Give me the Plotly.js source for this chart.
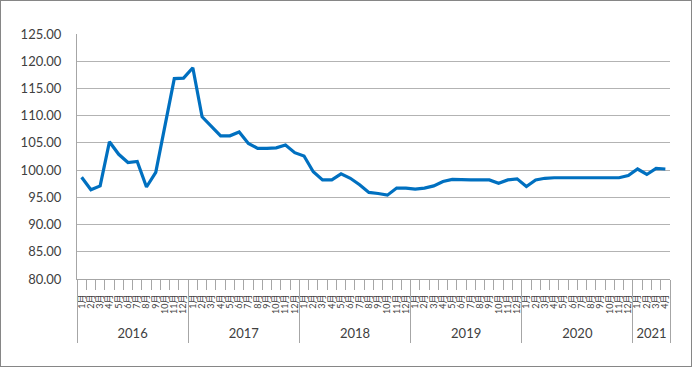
<!DOCTYPE html>
<html>
<head>
<meta charset="utf-8">
<script src="https://cdn.plot.ly/plotly-3.0.1.min.js"></script>
<style>
html,body{margin:0;padding:0;background:#fff;}
#wrap{position:relative;width:692px;height:367px;}
#chart{width:692px;height:367px;}
#frame{position:absolute;left:0;top:0;width:690px;height:365px;border:1px solid #868686;pointer-events:none;}
</style>
</head>
<body>
<div id="wrap"><div id="chart"></div><div id="frame"></div></div>
<script>
var years = [
 "2016","2016","2016","2016","2016","2016","2016","2016","2016","2016","2016","2016",
 "2017","2017","2017","2017","2017","2017","2017","2017","2017","2017","2017","2017",
 "2018","2018","2018","2018","2018","2018","2018","2018","2018","2018","2018","2018",
 "2019","2019","2019","2019","2019","2019","2019","2019","2019","2019","2019","2019",
 "2020","2020","2020","2020","2020","2020","2020","2020","2020","2020","2020","2020",
 "2021","2021","2021","2021"];
var months = [
 "1月","2月","3月","4月","5月","6月","7月","8月","9月","10月","11月","12月",
 "1月","2月","3月","4月","5月","6月","7月","8月","9月","10月","11月","12月",
 "1月","2月","3月","4月","5月","6月","7月","8月","9月","10月","11月","12月",
 "1月","2月","3月","4月","5月","6月","7月","8月","9月","10月","11月","12月",
 "1月","2月","3月","4月","5月","6月","7月","8月","9月","10月","11月","12月",
 "1月","2月","3月","4月"];
var values = [
 98.7, 96.4, 97.1, 105.2, 102.9, 101.4, 101.6, 96.9, 99.6, 108.3, 116.8, 116.9,
 118.8, 109.8, 108.0, 106.3, 106.3, 107.0, 104.9, 104.0, 104.0, 104.1, 104.6, 103.2,
 102.6, 99.7, 98.2, 98.2, 99.3, 98.5, 97.3, 95.9, 95.7, 95.4, 96.7, 96.7,
 96.5, 96.7, 97.1, 97.9, 98.3, 98.2, 98.2, 98.2, 98.2, 97.6, 98.2, 98.4,
 97.0, 98.2, 98.5, 98.6, 98.6, 98.6, 98.6, 98.6, 98.6, 98.6, 98.6, 99.0,
 100.2, 99.2, 100.3, 100.2];

// category positions derived from the arrays
var idx = months.map(function(_, i){ return i; });
var monthBounds = idx.map(function(i){ return i - 0.5; }).concat([months.length - 0.5]);
var yearNames = years.filter(function(y, i){ return i === 0 || years[i-1] !== y; });
var yearCenters = yearNames.map(function(y){
  return (years.indexOf(y) + years.lastIndexOf(y)) / 2;
});
var yearBounds = yearNames.map(function(y){ return years.indexOf(y) - 0.5; })
  .concat([years.length - 0.5]);
var xRange = [-0.5, years.length - 0.5];

var trace = {
  type: 'scatter', mode: 'lines',
  x: idx, y: values,
  line: {color: '#0070C0', width: 3.2},
  hoverinfo: 'skip'
};
// invisible helpers so the overlaying axes are drawn
var t2 = {type:'scatter', mode:'lines', x: xRange, y:[80,80], xaxis:'x2', line:{width:0}, hoverinfo:'skip'};
var t3 = {type:'scatter', mode:'lines', x: xRange, y:[80,80], xaxis:'x3', line:{width:0}, hoverinfo:'skip'};

var axColor = '#a6a6a6';
var layout = {
  width: 692, height: 367,
  margin: {l: 77, r: 22, t: 34, b: 88},
  paper_bgcolor: '#ffffff', plot_bgcolor: '#ffffff',
  showlegend: false,
  font: {family: 'Lato, "Noto Sans CJK SC", sans-serif', color: '#404040', size: 13},
  xaxis: {
    type: 'linear', range: xRange,
    tickmode: 'array', tickvals: idx, ticktext: months,
    tickangle: -90, tickfont: {size: 9, color: '#404040'},
    ticks: '', ticklabelstandoff: 11,
    showline: true, linecolor: axColor, linewidth: 1,
    showgrid: false, zeroline: false,
    minor: {tickmode: 'array', tickvals: monthBounds,
            ticks: 'outside', ticklen: 10, tickcolor: axColor, tickwidth: 1, showgrid: false}
  },
  xaxis2: {
    type: 'linear', range: xRange, overlaying: 'x', side: 'bottom', anchor: 'y',
    tickmode: 'array', tickvals: yearCenters, ticktext: yearNames,
    ticks: '', ticklabelstandoff: 45,
    tickfont: {size: 13, color: '#404040'},
    showline: false, showgrid: false, zeroline: false
  },
  xaxis3: {
    type: 'linear', range: xRange, overlaying: 'x', side: 'bottom', anchor: 'y',
    tickmode: 'array', tickvals: yearBounds,
    ticks: 'outside', ticklen: 63, tickcolor: axColor, tickwidth: 1,
    showticklabels: false,
    showline: false, showgrid: false, zeroline: false
  },
  yaxis: {
    range: [80, 125], dtick: 5, tick0: 80,
    tickformat: '.2f',
    showline: true, linecolor: axColor, linewidth: 1,
    showgrid: true, gridcolor: '#b3b3b3', gridwidth: 1.2,
    zeroline: false, ticks: '',
    ticklabelstandoff: 12,
    tickfont: {size: 13, color: '#404040'}
  }
};

Plotly.newPlot('chart', [trace, t2, t3], layout, {displayModeBar: false, staticPlot: true});
</script>
</body>
</html>
